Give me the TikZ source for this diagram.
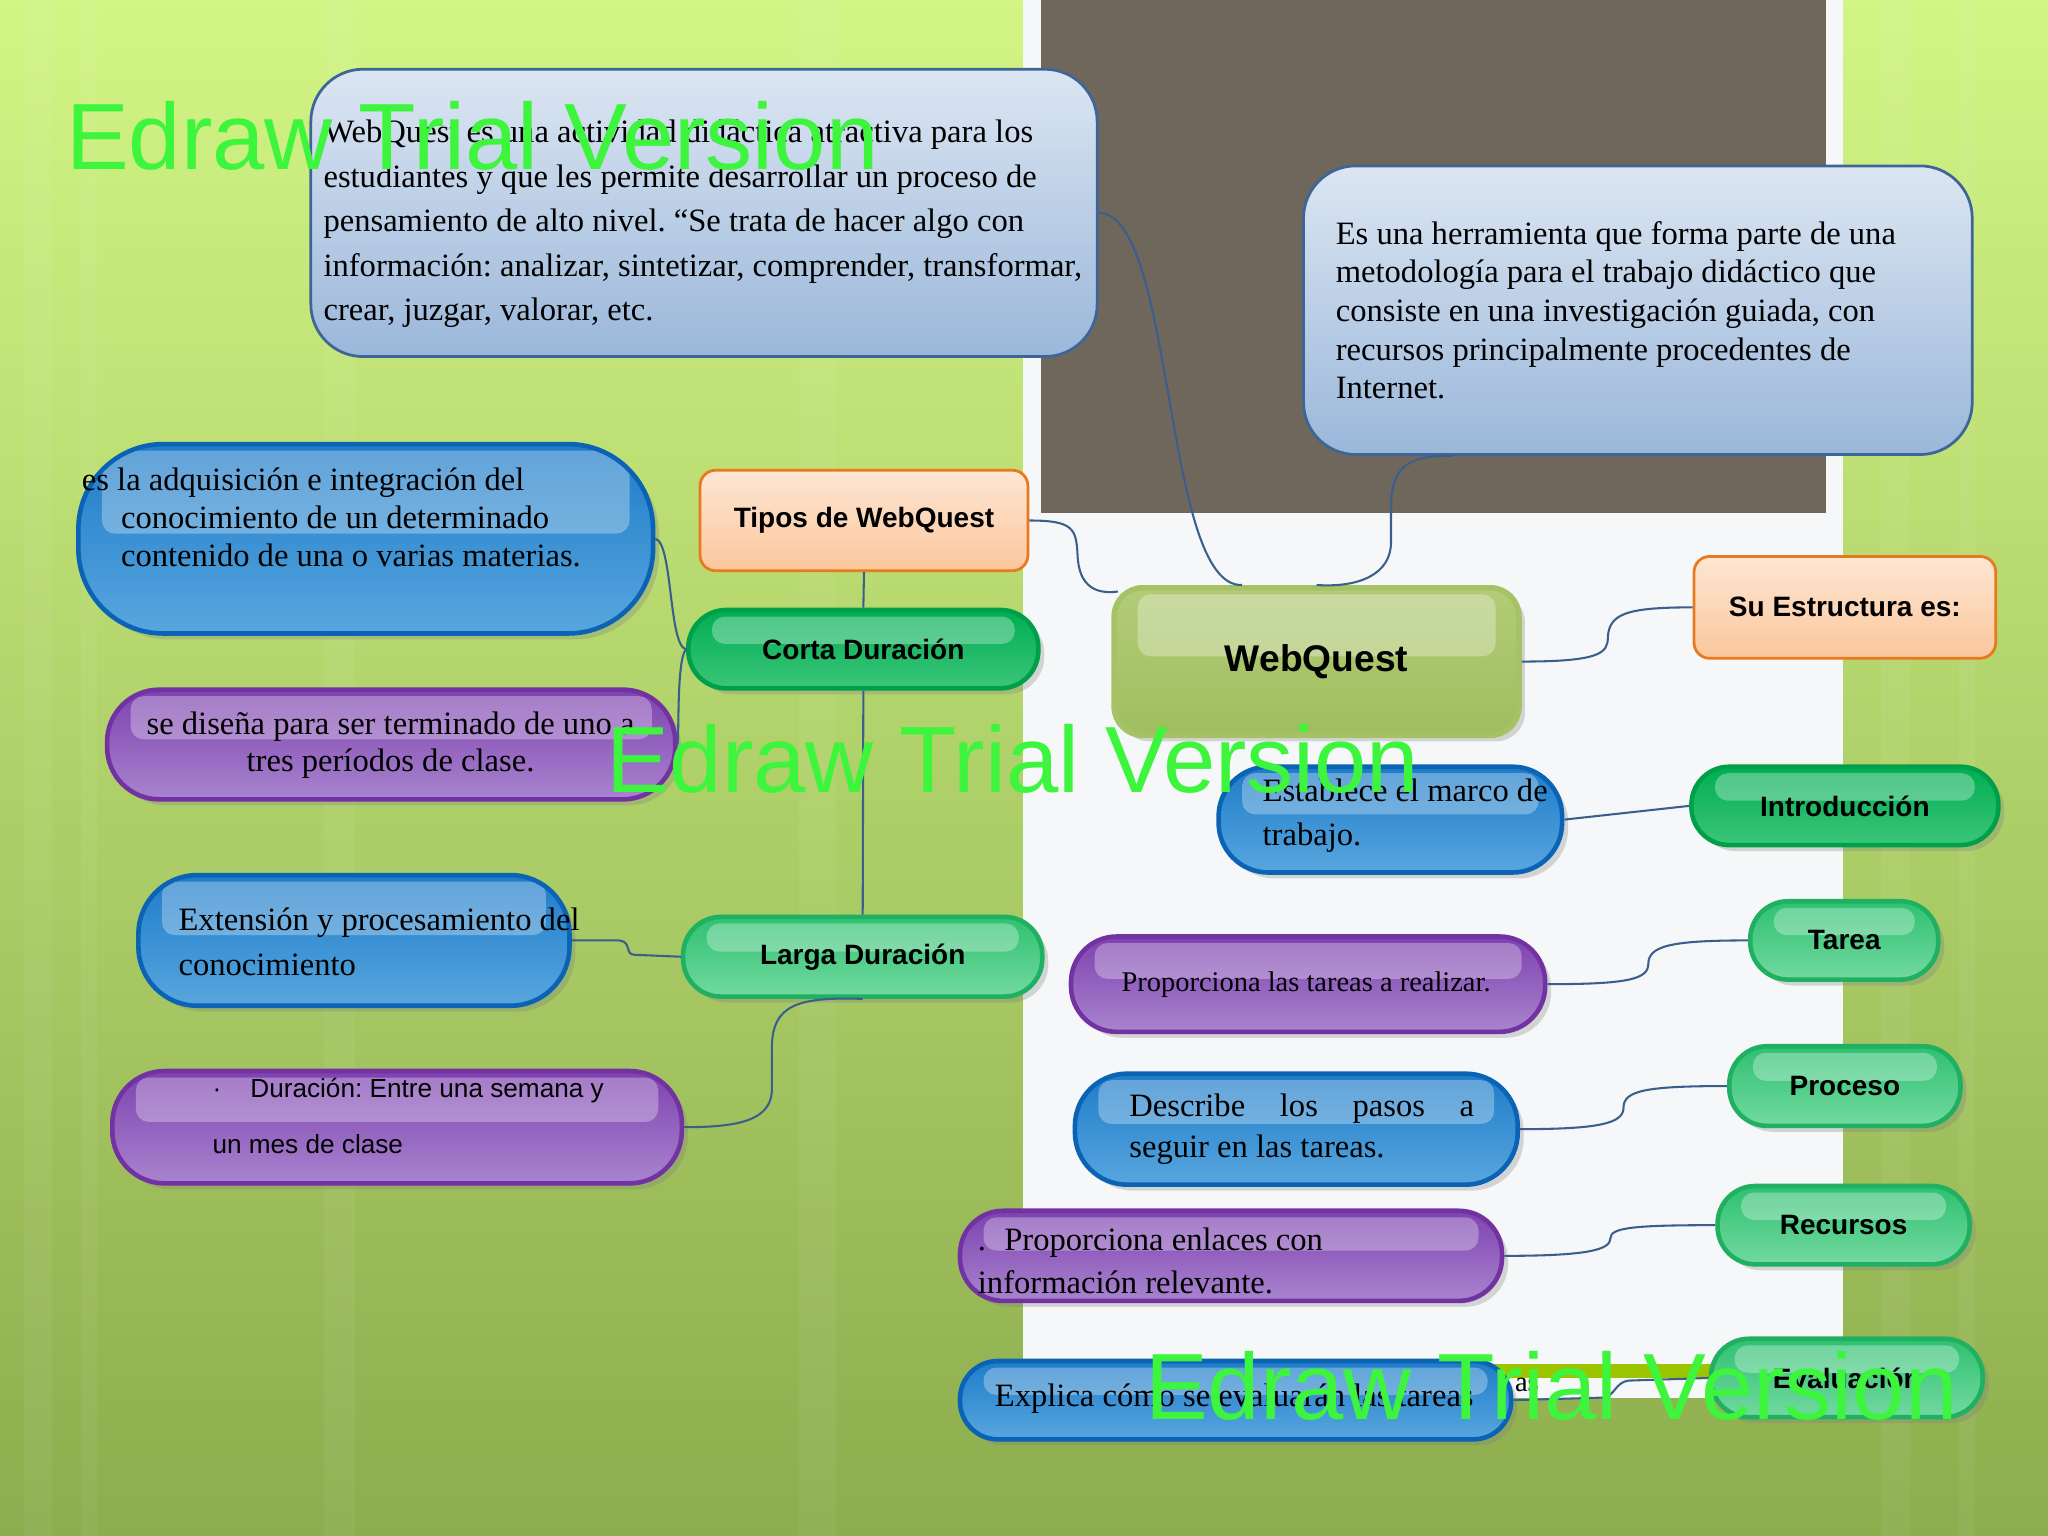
\documentclass[tikz,border=0pt]{standalone}
\usepackage{fontspec}
\setmainfont{Liberation Serif}
\newfontfamily\sansfont{Liberation Sans}
\usetikzlibrary{calc,shadows}
\frenchspacing

% colours
\definecolor{bgtop}{HTML}{D2F585}
\definecolor{bgmid}{HTML}{A9CF5F}
\definecolor{bgbot}{HTML}{8DAD4E}
\definecolor{panel}{HTML}{F6F7F8}
\definecolor{graybox}{HTML}{6F675B}
\definecolor{barg}{HTML}{9CC400}
\definecolor{linkblue}{HTML}{3A5F8C}
\definecolor{boxtop}{HTML}{DCE6F2}
\definecolor{boxbot}{HTML}{9AB7DA}
\definecolor{boxline}{HTML}{3D6598}
\definecolor{ortop}{HTML}{FDE6D3}
\definecolor{orbot}{HTML}{FBC79C}
\definecolor{orline}{HTML}{E8791E}
\definecolor{bluetop}{HTML}{1E7CC9}
\definecolor{bluebot}{HTML}{58A6DE}
\definecolor{blueline}{HTML}{0B63B5}
\definecolor{purtop}{HTML}{7E42B0}
\definecolor{purbot}{HTML}{A884CE}
\definecolor{purline}{HTML}{7232A2}
\definecolor{grntop}{HTML}{00AE52}
\definecolor{grnbot}{HTML}{3CC57A}
\definecolor{grnline}{HTML}{00A04A}
\definecolor{lgrtop}{HTML}{2FC171}
\definecolor{lgrbot}{HTML}{72D9A0}
\definecolor{lgrline}{HTML}{1FB062}
\definecolor{olvtop}{HTML}{B3CC78}
\definecolor{olvbot}{HTML}{A0BE5E}
\definecolor{olvline}{HTML}{A6C266}
\definecolor{wmgreen}{HTML}{3DF53D}

\newcommand{\serifsz}[1]{\fontsize{7.1pt}{#1}\selectfont}
\newcommand{\labelsz}{\sansfont\bfseries\fontsize{6.1pt}{7.3pt}\selectfont}

\tikzset{
  link/.style={draw=linkblue, line width=0.45pt},
  gloss/.style={path picture={\fill[white, fill opacity=0.3, rounded corners=1mm]
      ($(path picture bounding box.north west)+(18,5)$) rectangle
      ($(path picture bounding box.east)+(-18,-4)$);}},
  pill/.style={rounded corners=#1, line width=1pt, gloss,
      drop shadow={shadow xshift=1.3pt, shadow yshift=-1.3pt, opacity=0.3}},
  bluepill/.style={pill=#1, draw=blueline, top color=bluetop, bottom color=bluebot},
  purpill/.style={pill=#1, draw=purline, top color=purtop, bottom color=purbot},
  grnpill/.style={pill=#1, draw=grnline, top color=grntop, bottom color=grnbot, font=\labelsz},
  lgrpill/.style={pill=#1, draw=lgrline, top color=lgrtop, bottom color=lgrbot, font=\labelsz},
  lightbox/.style={rounded corners=4mm, draw=boxline, line width=0.6pt, top color=boxtop, bottom color=boxbot},
  orbox/.style={rounded corners=1.2mm, draw=orline, line width=0.6pt, top color=ortop, bottom color=orbot, font=\labelsz},
  boxtxt/.style={inner sep=0pt, align=left, anchor=west},
  wmark/.style={inner sep=0pt, anchor=base west, text=wmgreen, font=\sansfont\fontsize{20.5pt}{24pt}\selectfont}
}

\begin{document}
\begin{tikzpicture}[x=0.1mm, y=-0.1mm]
\useasboundingbox (0,0) rectangle (1568,1176);

% background of the slide
\shade[top color=bgtop, middle color=bgmid, bottom color=bgbot] (0,0) rectangle (1568,1176);
\foreach \xa/\xb in {18/40, 62/74, 248/272, 612/640, 1440/1462, 1500/1512}
  \fill[white, opacity=0.05] (\xa,0) rectangle (\xb,1176);
\fill[panel] (783,0) rectangle (1411,1044);
\fill[panel] (783,1044) rectangle (1312,1070);
\fill[barg] (1132,1044) rectangle (1312,1055);
\fill[graybox] (797,0) rectangle (1398,393);

% definition boxes
\node[lightbox, minimum width=60.2mm, minimum height=22mm] (defA) at (539,163) {};
\node[boxtxt, font=\serifsz{9.7pt}] (defA-t) at (247,171.5)
  {WebQuest es una actividad didáctica atractiva para los\\
   estudiantes y que les permite desarrollar un proceso de\\
   pensamiento de alto nivel. “Se trata de hacer algo con\\
   información: analizar, sintetizar, comprender, transformar,\\
   crear, juzgar, valorar, etc.};
\node[lightbox, minimum width=51.2mm, minimum height=22.1mm] (defB) at (1254,237.5) {};
\node[boxtxt, font=\serifsz{8.4pt}] (defB-t) at (1022,237.5)
  {Es una herramienta que forma parte de una\\
   metodología para el trabajo didáctico que\\
   consiste en una investigación guiada, con\\
   recursos principalmente procedentes de\\
   Internet.};

% central node
\node[pill=2.2mm, draw=olvline, line width=1.2pt, top color=olvtop, bottom color=olvbot,
  minimum width=31mm, minimum height=11.3mm, font=\sansfont\bfseries\fontsize{8.1pt}{9pt}\selectfont]
  (wq) at (1008,506.5) {WebQuest};

% types branch
\node[orbox, minimum width=25.1mm, minimum height=7.7mm] (tipos) at (661.5,398.5) {Tipos de WebQuest};
\node[grnpill=2.9mm, minimum width=26.8mm, minimum height=6mm] (corta) at (661,497) {Corta Duración};
\node[lgrpill=2.9mm, minimum width=27.5mm, minimum height=6.1mm] (larga) at (660.5,732.5) {Larga Duración};

\node[bluepill=6.5mm, minimum width=44mm, minimum height=14.5mm] (adq) at (280,412.5) {};
\node[boxtxt, font=\serifsz{8.25pt}] (adq-t) at (62,396)
  {es la adquisición e integración del\\
   \hspace*{3mm}conocimiento de un determinado\\
   \hspace*{3mm}contenido de una o varias materias.};
\node[purpill=4mm, minimum width=43.5mm, minimum height=8.4mm] (dis) at (299.5,570) {};
\node[inner sep=0pt, align=center, font=\serifsz{8.25pt}] (dis-t) at (299,570.5)
  {se diseña para ser terminado de uno a\\ tres períodos de clase.};
\node[bluepill=4.5mm, minimum width=33mm, minimum height=10mm] (ext) at (271,720) {};
\node[boxtxt, font=\serifsz{9.7pt}] (ext-t) at (136,721)
  {Extensión y procesamiento del\\ conocimiento};
\node[purpill=4mm, minimum width=43.6mm, minimum height=8.6mm] (dur) at (304,863) {};
\node[boxtxt, font=\sansfont\fontsize{5.7pt}{12.2pt}\selectfont] (dur-t) at (162,854.5)
  {\makebox[2.9mm][l]{·}Duración: Entre una semana y\\ un mes de clase};

% structure branch
\node[orbox, minimum width=23.1mm, minimum height=7.8mm] (su) at (1412.5,465) {Su Estructura es:};
\node[grnpill=2.9mm, minimum width=23.5mm, minimum height=6mm] (intro) at (1412.5,617) {Introducción};
\node[lgrpill=2.9mm, minimum width=14.4mm, minimum height=6mm] (tarea) at (1412,720) {Tarea};
\node[lgrpill=2.9mm, minimum width=17.7mm, minimum height=6.1mm] (proceso) at (1412.5,831.5) {Proceso};
\node[lgrpill=2.9mm, minimum width=19.3mm, minimum height=6mm] (recursos) at (1411.5,938) {Recursos};
\node[lgrpill=2.9mm, minimum width=20.8mm, minimum height=6mm] (eval) at (1414,1055) {Evaluación};

\node[bluepill=3.8mm, minimum width=26.3mm, minimum height=8.1mm] (est) at (1064.5,627.5) {};
\node[boxtxt, font=\serifsz{9.4pt}] (est-t) at (966,624.5) {Establece el marco de\\ trabajo.};
\node[purpill=3.5mm, minimum width=36.3mm, minimum height=7.3mm] (prt) at (1001.5,753.5) {};
\node[boxtxt, font=\fontsize{6.2pt}{7.5pt}\selectfont] (prt-t) at (858,754) {Proporciona las tareas a realizar.};
\node[bluepill=4mm, minimum width=33.9mm, minimum height=8.5mm] (desc) at (992.5,864.5) {};
\node[boxtxt, font=\serifsz{8.8pt}] (desc-t) at (864,864.5)
  {\makebox[26.4mm][s]{Describe\hfill los\hfill pasos\hfill a}\\ seguir en las tareas.};
\node[purpill=3.3mm, minimum width=41.5mm, minimum height=6.9mm] (enl) at (942.5,961.5) {};
\node[boxtxt, font=\serifsz{9.4pt}] (enl-t) at (748,965.5)
  {.\hspace{1.4mm}Proporciona enlaces con\\ información relevante.};
\node[bluepill=2.9mm, minimum width=42.2mm, minimum height=6mm] (expl) at (946,1072) {};
\node[boxtxt, font=\serifsz{8.4pt}] (expl-t) at (761,1071) {Explica cómo se evaluarán las tareas};
\node[inner sep=0pt, font=\fontsize{6.2pt}{7pt}\selectfont] (as-t) at (1169,1060) {as};

% connectors
\draw[link] (defA.east) .. controls (900,163) and (890,450) .. ($(wq.north west)+(100,0)$);
\draw[link] ($(defB.south west)+(115,0)$) .. controls (1075,348) and (1065,360) .. (1065,390)
  -- (1065,415) .. controls (1065,440) and (1040,450) .. (wq.north);
\draw[link] (tipos.east) .. controls (822,398.5) and (824,405) .. (825,425)
  .. controls (826,450) and (840,455) .. ($(wq.north west)+(5,5)$);
\draw[link] (tipos.south) -- (corta.north);
\draw[link] (corta.south) -- (larga.north);
\draw[link] (corta.west) .. controls (512,495) and (515,415) .. (adq.east);
\draw[link] (corta.west) .. controls (518,505) and (520,562) .. (dis.east);
\draw[link] (larga.west) -- (486,731) .. controls (478,731) and (484,721) .. (474,720) -- (ext.east);
\draw[link] (larga.south) .. controls (610,763) and (592,770) .. (591,800)
  -- (591,835) .. controls (590,858) and (565,863) .. (dur.east);
\draw[link] (wq.east) .. controls (1225,506.5) and (1231,500) .. (1231,488)
  .. controls (1232,470) and (1245,465) .. (su.west);
\draw[link] (est.east) -- (intro.west);
\draw[link] (prt.east) .. controls (1245,753.5) and (1262,750) .. (1262,738)
  .. controls (1262,724) and (1280,720) .. (tarea.west);
\draw[link] (desc.east) .. controls (1225,864.5) and (1243,860) .. (1243,848)
  .. controls (1243,835) and (1260,831.5) .. (proceso.west);
\draw[link] (enl.east) .. controls (1215,961.5) and (1233,957) .. (1233,948)
  .. controls (1233,940) and (1250,938) .. (recursos.west);
\draw[link] (expl.east) -- (1228,1070) .. controls (1236,1069) and (1237,1058) .. (1247,1057) -- (eval.west);

% trial watermarks
\node[wmark] (wm1) at (50,130) {Edraw Trial Version};
\node[wmark] (wm2) at (464,607) {Edraw Trial Version};
\node[wmark] (wm3) at (876,1087) {Edraw Trial Version};

\end{tikzpicture}
\end{document}
